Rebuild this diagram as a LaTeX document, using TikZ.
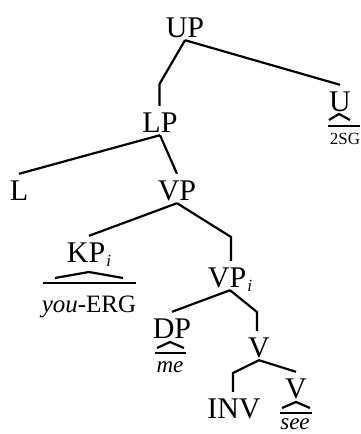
\documentclass[tikz,border=0pt]{standalone}
\usepackage{fontspec}
\setmainfont{Liberation Serif}
\begin{document}
\begin{tikzpicture}[x=1pt,y=-1pt,
  lab/.style={anchor=base,inner sep=0pt,font=\fontsize{30}{32}\selectfont,text height=26pt,text depth=3pt},
  gloss/.style={anchor=base,inner sep=0pt,font=\fontsize{25}{27}\selectfont},
  small/.style={anchor=base,inner sep=0pt,font=\fontsize{23}{25}\selectfont\itshape},
  tiny/.style={anchor=base,inner sep=0pt,font=\fontsize{17}{18}\selectfont},
  br/.style={line width=2.2pt,line join=miter},
  hat/.style={line width=2.2pt,line join=miter}]
\useasboundingbox (0,0) rectangle (361,434);
\newcommand{\subi}{\raisebox{-4pt}{\fontsize{17}{18}\selectfont\itshape i}}
% nodes
\node[lab] (UP) at (185,37) {UP};
\node[lab] (LP) at (160,132) {LP};
\node[lab] (U) at (340,111) {U};
\node[tiny] (sg) at (345,144) {2SG};
\node[lab] (L) at (19,200) {L};
\node[lab] (VP) at (177,200) {VP};
\node[lab] (KP) at (89,262) {KP\kern1pt\subi};
\node[gloss] (erg) at (89,312) {\textit{you}-ERG};
\node[lab] (VPi) at (230,287) {VP\kern1pt\subi};
\node[lab] (DP) at (172,338) {DP};
\node[small] (me) at (170,372) {me};
\node[lab] (V1) at (259,357) {V};
\node[lab] (INV) at (234,418) {INV};
\node[lab] (V2) at (296,398) {V};
\node[small] (see) at (295,429) {see};
% bend points
\coordinate (b1) at (159.5,84);
\coordinate (b2) at (231,237);
\coordinate (b3) at (257,312);
\coordinate (b4) at (233,373);
% connectors
\draw[br] (UP.south) -- (b1) -- (b1 |- LP.north);
\draw[br] (UP.south) -- (U.north);
\draw[br] (LP.south) -- (L.north);
\draw[br] (LP.south) -- (VP.north);
\draw[br] (VP.south) -- (KP.north);
\draw[br] (VP.south) -- (b2) -- (b2 |- VPi.north);
\draw[br] (VPi.south) -- (DP.north);
\draw[br] (VPi.south) -- (b3) -- (b3 |- V1.north);
\draw[br] (V1.south) -- (b4) -- (b4 |- INV.north);
\draw[br] (V1.south) -- (V2.north);
% hats
\draw[hat] (329,120) -- (339,114) -- (350,120);
\draw[hat] (328,126) -- (360,126);
\draw[hat] (55,278) -- (89,272) -- (123,278);
\draw[hat] (43,283) -- (136,283);
\draw[hat] (157,348) -- (170,342) -- (184,348);
\draw[hat] (155,353) -- (186,353);
\draw[hat] (282,408) -- (296,402) -- (310,408);
\draw[hat] (280,413) -- (312,413);
\end{tikzpicture}
\end{document}
